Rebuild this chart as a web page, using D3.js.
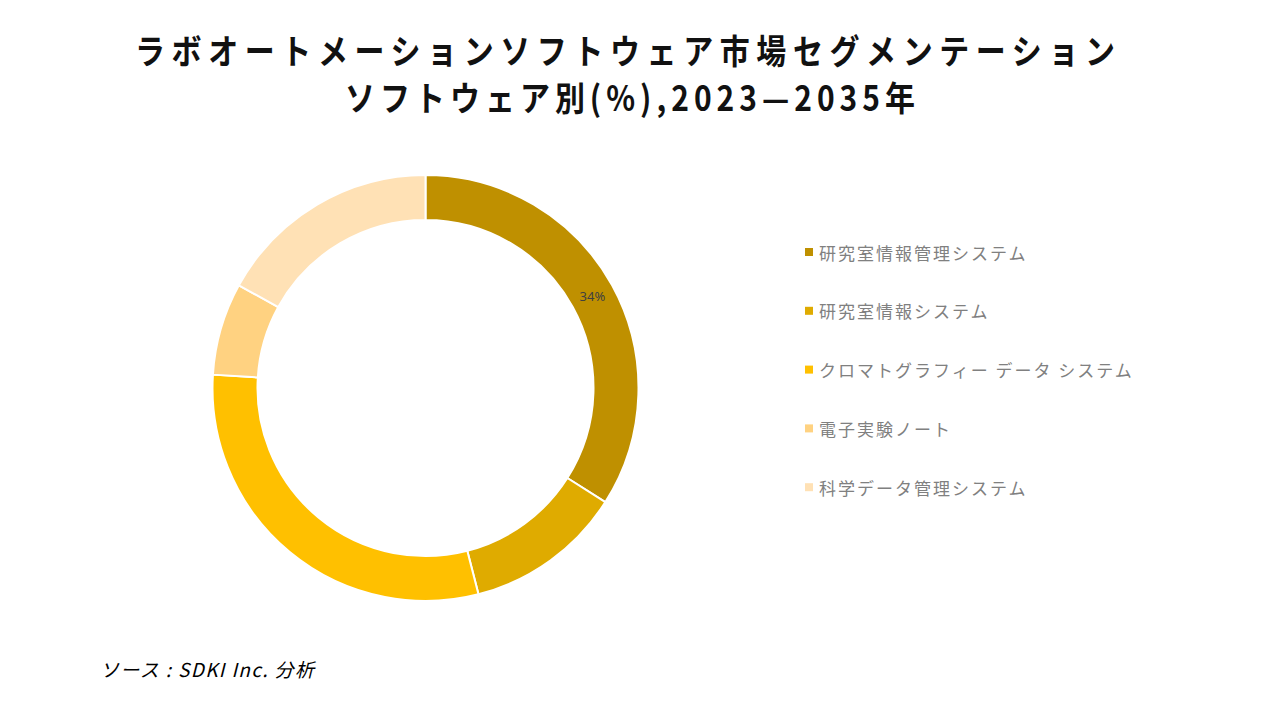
<!DOCTYPE html>
<html>
<head>
<meta charset="utf-8">
<script src="https://cdn.jsdelivr.net/npm/d3@7"></script>
<style>
  body { margin: 0; background: #fff; }
  svg { display: block; }
</style>
</head>
<body>
<script>
// chart data
const categories = ['研究室情報管理システム', '研究室情報システム', 'クロマトグラフィー データ システム', '電子実験ノート', '科学データ管理システム'];
const shares = [34, 12, 30, 7, 17];
const shownLabels = ['34%', '', '', '', ''];
const colors = ['#BF9000', '#DFAB00', '#FFC000', '#FFD281', '#FFE1B5'];
const titleLines = ['ラボオートメーションソフトウェア市場セグメンテーション', 'ソフトウェア別(%),2023—2035年'];
const sourceText = 'ソース : SDKI Inc. 分析';

const svgWidth = 1280;
const svgHeight = 720;
const cx = 425.5, cy = 388;
const outerR = 213, innerR = 168;

const svg = d3.select('body').append('svg')
    .attr('width', svgWidth)
    .attr('height', svgHeight);

// title, stretched to the width of the original
const title = svg.append('g')
    .attr('font-family', '"Noto Sans CJK JP", sans-serif')
    .attr('font-weight', 600)
    .attr('fill', '#111');
title.selectAll('text')
    .data(titleLines)
    .join('text')
    .attr('transform', (d, i) => `translate(${[135, 345][i]}, ${[64, 111][i]}) scale(1, 1.15)`)
    .attr('font-size', 30)
    .attr('textLength', (d, i) => [980, 570][i])
    .attr('lengthAdjust', 'spacing')
    .text(d => d);

const data = categories.map((c, i) => ({name: c, value: shares[i], label: shownLabels[i], color: colors[i]}));

const pie = d3.pie()
    .value(d => d.value)
    .sort(null);

const arc = d3.arc()
    .innerRadius(innerR)
    .outerRadius(outerR);

const g = svg.append('g')
    .attr('transform', `translate(${cx}, ${cy})`);

const arcs = pie(data);

g.selectAll('path')
    .data(arcs)
    .join('path')
    .attr('d', arc)
    .attr('fill', d => d.data.color)
    .attr('stroke', '#fff')
    .attr('stroke-width', 2);

g.selectAll('text')
    .data(arcs)
    .join('text')
    .attr('transform', d => `translate(${arc.centroid(d)})`)
    .attr('text-anchor', 'middle')
    .attr('dominant-baseline', 'central')
    .attr('font-family', '"Noto Sans", sans-serif')
    .attr('font-size', 13)
    .attr('fill', '#404040')
    .text(d => d.data.label);

// legend
const legend = svg.append('g')
    .attr('transform', 'translate(805, 252)');

const rows = legend.selectAll('g')
    .data(data)
    .join('g')
    .attr('transform', (d, i) => `translate(0, ${i * 58.8})`);

rows.append('rect')
    .attr('x', 0)
    .attr('y', -4)
    .attr('width', 8)
    .attr('height', 8)
    .attr('fill', d => d.color);

rows.append('text')
    .attr('x', 14)
    .attr('y', 0)
    .attr('dominant-baseline', 'central')
    .attr('font-family', '"Noto Sans CJK JP", sans-serif')
    .attr('font-size', 17)
    .attr('letter-spacing', 2)
    .attr('fill', '#808080')
    .text(d => d.name);

// source
svg.append('text')
    .attr('x', 100)
    .attr('y', 677)
    .attr('font-family', '"Noto Sans CJK JP", sans-serif')
    .attr('font-style', 'italic')
    .attr('font-size', 19)
    .attr('textLength', 214)
    .attr('lengthAdjust', 'spacing')
    .attr('fill', '#000')
    .text(sourceText);
</script>
</body>
</html>
